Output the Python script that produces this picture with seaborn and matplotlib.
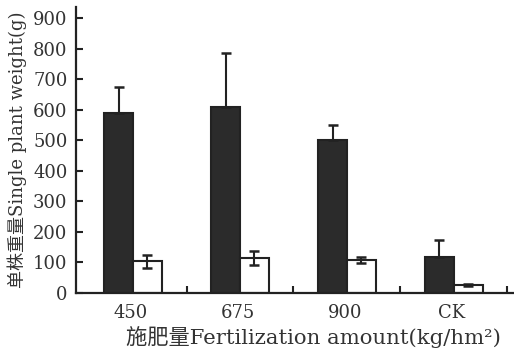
import matplotlib
matplotlib.use("Agg")
import matplotlib.pyplot as plt
import seaborn as sns
import pandas as pd
import numpy as np

categories = ["450", "675", "900", "CK"]
series = ["A", "B"]
dark_values = [589, 610, 501, 119]
dark_err = [85, 175, 49, 55]
white_values = [104, 115, 108, 27]
white_err = [21, 23, 9, 3]
yticks = [0, 100, 200, 300, 400, 500, 600, 700, 800, 900]

sns.set_style("white")
plt.rcParams['font.family'] = ['DejaVu Serif', 'Noto Sans CJK SC', 'DejaVu Sans']

df = pd.DataFrame({
    "cat": categories * 2,
    "ser": [series[0]] * 4 + [series[1]] * 4,
    "val": dark_values + white_values,
})

fig = plt.figure(figsize=(5.14, 3.49), dpi=100)
ax = fig.add_axes([0.1475, 0.1605, 0.85, 0.82])

sns.barplot(data=df, x="cat", y="val", hue="ser", order=categories,
            hue_order=series, palette=["#2b2b2b", "white"], width=0.54,
            errorbar=None, edgecolor="#222222", linewidth=1.5, legend=False,
            gap=0, ax=ax)

xpos = np.arange(len(categories))
off = 0.135
ax.errorbar(xpos - off, dark_values, yerr=[np.zeros(4), dark_err], fmt="none",
            ecolor="#222222", elinewidth=1.5, capsize=3.5, capthick=1.8, zorder=5)
ax.errorbar(xpos + off, white_values, yerr=white_err, fmt="none",
            ecolor="#222222", elinewidth=1.5, capsize=3.5, capthick=1.8, zorder=5)

ax.set_xlim(-0.535, 3.55)
ax.set_ylim(0, 937)
ax.set_yticks(yticks)
ax.set_yticklabels([str(t) for t in yticks], fontsize=13)
ax.set_xticks(xpos - 0.02)
ax.set_xticklabels(categories, fontsize=13)
ax.set_xticks([0.5, 1.5, 2.5, 3.5], minor=True)

ax.tick_params(axis="y", direction="in", length=5, width=1.5, color="#222222",
               pad=6, left=True, labelcolor="#333333")
ax.tick_params(axis="x", which="major", length=0, pad=8, labelcolor="#333333")
ax.tick_params(axis="x", which="minor", direction="in", length=5, width=1.5,
               color="#222222", bottom=True)

for s in ["top", "right"]:
    ax.spines[s].set_visible(False)
for s in ["left", "bottom"]:
    ax.spines[s].set_linewidth(1.6)
    ax.spines[s].set_color("#222222")

ax.set_xlabel("施肥量Fertilization amount(kg/hm²)", fontsize=15.3, color="#333333")
ax.xaxis.set_label_coords(0.545, -0.115)
ax.set_ylabel("单株重量Single plant weight(g)", fontsize=13, color="#333333",
              labelpad=4)

fig.savefig("out.png", dpi=100, facecolor="white")
